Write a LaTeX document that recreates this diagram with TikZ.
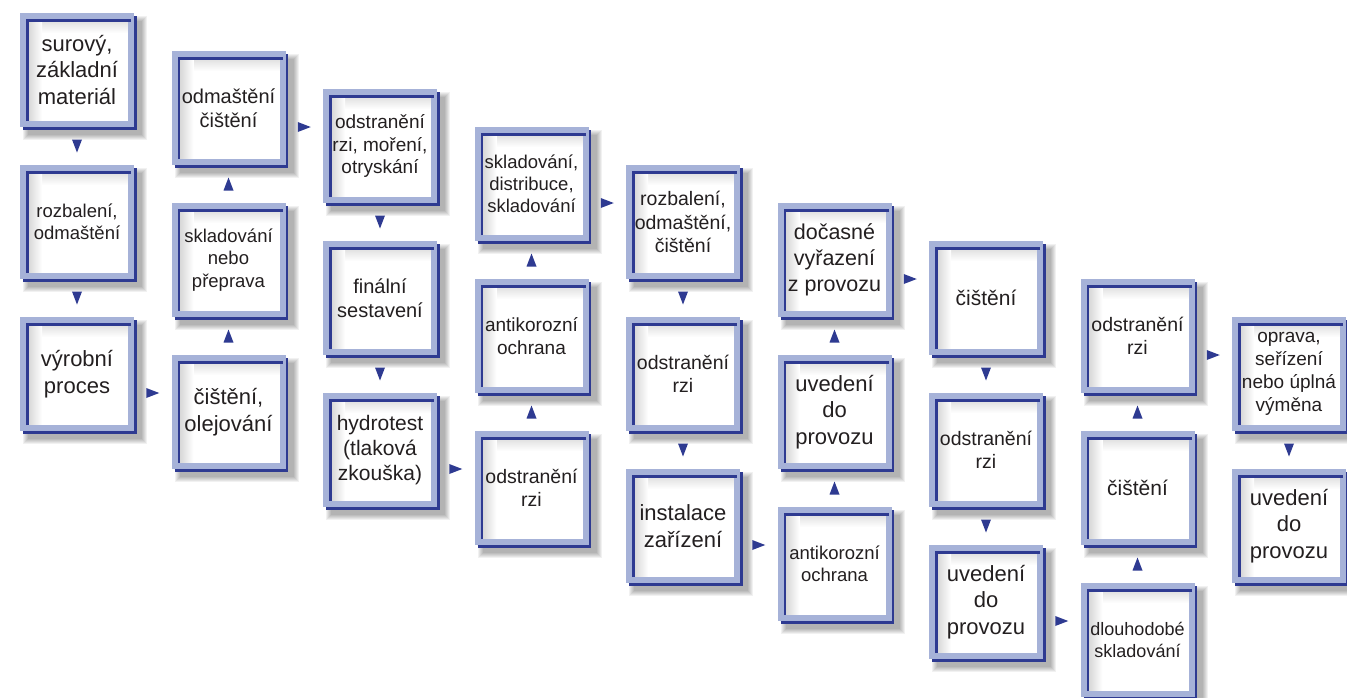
\documentclass[tikz,border=0pt]{standalone}
\usepackage{fontspec}
\setmainfont{Liberation Sans}
\usetikzlibrary{calc}
\definecolor{frameblue}{RGB}{166,178,216}
\definecolor{darkblue}{RGB}{46,58,145}
\definecolor{txt}{RGB}{35,31,32}
\tikzset{
  boxtext/.style={align=center, text=txt, inner sep=0pt},
  arrowdown/.pic={\fill[darkblue] (-5,-6.5) -- (5,-6.5) -- (0,6.5) -- cycle;},
  arrowup/.pic={\fill[darkblue] (-5,6.5) -- (5,6.5) -- (0,-6.5) -- cycle;},
  arrowright/.pic={\fill[darkblue] (-6.5,-5) -- (-6.5,5) -- (6.5,0) -- cycle;},
}
\newcommand{\procbox}[5]{%
  \begin{scope}[shift={(#2,#3)}]
    \foreach \k in {0,...,5} \fill[black,opacity=0.055] (3+\k,3+\k) rectangle (127-\k,127-\k);
    \fill[white] (0,0) rectangle (114,114);
    \shade[top color=black!12, bottom color=white] (8,8) rectangle (108,20);
    \shade[left color=black!16, right color=white] (8,8) rectangle (22,108);
    \draw[frameblue, line width=6pt] (3,3) rectangle (111,111);
    \draw[darkblue, line width=2.5pt] (7.25,108) -- (7.25,7.25) -- (111,7.25);
    \draw[darkblue, line width=2.5pt] (3,115.25) -- (115.25,115.25) -- (115.25,3);
    \node[boxtext, font=\fontsize{#4}{\dimexpr #4pt*12/10\relax}\selectfont] (#1) at (57,57) {#5};
  \end{scope}}
\begin{document}
\begin{tikzpicture}[x=1pt, y=-1pt]
\useasboundingbox (0,0) rectangle (1347,697);
\fill[white] (0,0) rectangle (1347,697);
% column 1
\procbox{n01}{20}{13}{22}{surový,\\základní\\materiál}
\procbox{n02}{20}{165}{18.5}{rozbalení,\\odmaštění}
\procbox{n03}{20}{317}{22}{výrobní\\proces}
% column 2
\procbox{n11}{171.5}{51}{20}{odmaštění\\čištění}
\procbox{n12}{171.5}{203}{18.5}{skladování\\nebo\\přeprava}
\procbox{n13}{171.5}{355}{22}{čištění,\\olejování}
% column 3
\procbox{n21}{323}{89}{19}{odstranění\\rzi, moření,\\otryskání}
\procbox{n22}{323}{241}{20}{finální\\sestavení}
\procbox{n23}{323}{393}{21}{hydrotest\\(tlaková\\zkouška)}
% column 4
\procbox{n31}{474.5}{127}{18.5}{skladování,\\distribuce,\\skladování}
\procbox{n32}{474.5}{279}{19}{antikorozní\\ochrana}
\procbox{n33}{474.5}{431}{19.5}{odstranění\\rzi}
% column 5
\procbox{n41}{626}{165}{19.5}{rozbalení,\\odmaštění,\\čištění}
\procbox{n42}{626}{317}{19.5}{odstranění\\rzi}
\procbox{n43}{626}{469}{22}{instalace\\zařízení}
% column 6
\procbox{n51}{777.5}{203}{21.5}{dočasné\\vyřazení\\z provozu}
\procbox{n52}{777.5}{355}{22}{uvedení\\do\\provozu}
\procbox{n53}{777.5}{507}{18.5}{antikorozní\\ochrana}
% column 7
\procbox{n61}{929}{241}{21}{čištění}
\procbox{n62}{929}{393}{19.5}{odstranění\\rzi}
\procbox{n63}{929}{545}{22}{uvedení\\do\\provozu}
% column 8
\procbox{n71}{1080.5}{279}{19.5}{odstranění\\rzi}
\procbox{n72}{1080.5}{431}{21}{čištění}
\procbox{n73}{1080.5}{583}{18}{dlouhodobé\\skladování}
% column 9
\procbox{n81}{1232}{317}{19}{oprava,\\seřízení\\nebo úplná\\výměna}
\procbox{n82}{1232}{469}{22}{uvedení\\do\\provozu}
% down arrows
\foreach \a/\b in {n01/n02,n02/n03,n21/n22,n22/n23,n41/n42,n42/n43,n61/n62,n62/n63,n81/n82}
  \pic at ($(\a)!0.5!(\b)$) {arrowdown};
% up arrows
\foreach \a/\b in {n13/n12,n12/n11,n33/n32,n32/n31,n53/n52,n52/n51,n73/n72,n72/n71}
  \pic at ($(\a)!0.5!(\b)$) {arrowup};
% right arrows
\foreach \a/\b in {n03/n13,n11/n21,n23/n33,n31/n41,n43/n53,n51/n61,n63/n73,n71/n81}
  \pic at ($(\a)!0.5!(\b)$) {arrowright};
\end{tikzpicture}
\end{document}
